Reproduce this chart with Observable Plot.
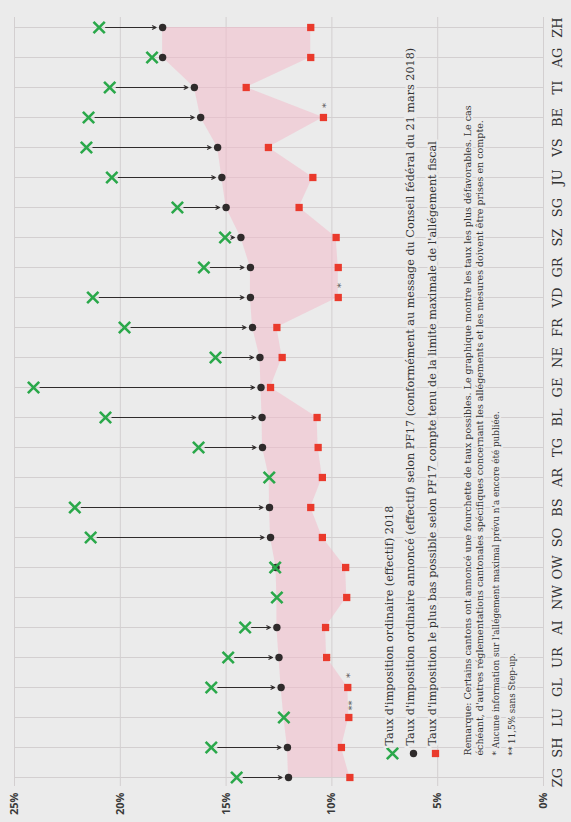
<!DOCTYPE html>
<html><head><meta charset="utf-8">
<script src="https://cdn.jsdelivr.net/npm/d3@7"></script>
<script src="https://cdn.jsdelivr.net/npm/@observablehq/plot@0.6"></script>
<style>
html,body{margin:0;padding:0;background:#ebebeb;}
#chart svg{display:block;}
</style></head><body><div id="chart"></div>
<script>
// Rows listed top (ZH) to bottom (ZG) as in the rotated picture
const cantons = ["ZH","AG","TI","BE","VS","JU","SG","SZ","GR","VD","FR","NE","GE","BL","TG","AR","BS","SO","OW","NW","AI","UR","GL","LU","SH","ZG"];
// Taux d'imposition ordinaire (effectif) 2018
const current = [21.0,18.5,20.5,21.5,21.6,20.4,17.3,15.05,16.05,21.3,19.8,15.5,24.1,20.7,16.3,12.96,22.15,21.4,12.68,12.6,14.1,14.9,15.7,12.27,15.7,14.5];
// Taux annoncé selon PF17 (null = inchangé)
const planned = [18.0,18.0,16.5,16.2,15.4,15.2,15.0,14.3,13.85,13.85,13.75,13.4,13.35,13.3,13.28,null,12.95,12.9,12.64,null,12.6,12.5,12.4,null,12.1,12.05];
// Taux le plus bas possible selon PF17
const lowest = [11.0,11.0,14.05,10.4,13.0,10.9,11.55,9.8,9.7,9.7,12.6,12.35,12.9,10.7,10.65,10.45,11.0,10.45,9.35,9.3,10.3,10.25,9.25,9.2,9.55,9.15];
const lowNote = ["","","","*","","","","","","*","","","","","","","","","","","","","*","**","",""];
const valueTicks = [0,5,10,15,20,25];
const legendLabels = [
  "Taux d'imposition ordinaire (effectif) 2018",
  "Taux d'imposition ordinaire annoncé (effectif) selon PF17 (conformément au message du Conseil fédéral du 21 mars 2018)",
  "Taux d'imposition le plus bas possible selon PF17 compte tenu de la limite maximale de l'allégement fiscal"
];
const noteLines = [
  "Remarque: Certains cantons ont annoncé une fourchette de taux possibles. Le graphique montre les taux les plus défavorables. Le cas",
  "échéant, d'autres réglementations cantonales spécifiques concernant les allégements et les mesures doivent être prises en compte.",
  "* Aucune information sur l'allégement maximal prévu n'a encore été publiée.",
  "** 11,5% sans Step-up."
];

const GREEN = "#2aa84a", DARK = "#2f2b2b", RED = "#ea3a2c", PINK = "#f2bccb", GRID = "#d3cfd0", BG = "#ebebeb";
const SERIF = "'DejaVu Serif', serif";

const rows = cantons.map((c, i) => ({
  canton: c, current: current[i], planned: planned[i], lowest: lowest[i], note: lowNote[i],
  left: planned[i] ?? current[i]
}));

const legendDx = [-151, -130, -108];
const legendSymbols = [
  {symbol: "times", stroke: GREEN, fill: "none", r: 5.2, strokeWidth: 2.6},
  {symbol: "circle", fill: DARK, stroke: null, r: 3.7},
  {symbol: "square", fill: RED, stroke: null, r: 4.1}
];
const noteDx = [-73, -61, -45, -29];

const legendMarks = legendLabels.flatMap((label, i) => [
  Plot.dot([label], {frameAnchor: "bottom-right", dx: legendDx[i], dy: -33, ...legendSymbols[i]}),
  Plot.text([label], {frameAnchor: "bottom-right", dx: legendDx[i], dy: -41, rotate: -90, textAnchor: "start",
    fontFamily: SERIF, fontSize: 11.2, fill: "#333", stroke: BG, strokeWidth: 5})
]);
const noteMarks = noteLines.map((line, i) =>
  Plot.text([line], {frameAnchor: "bottom-right", dx: noteDx[i], dy: -31, rotate: -90, textAnchor: "start",
    fontFamily: SERIF, fontSize: i < 2 ? 9.5 : 8.8, fill: "#333", stroke: BG, strokeWidth: 4})
);

const chart = Plot.plot({
  width: 571, height: 822,
  marginLeft: 14, marginRight: 28, marginTop: 17, marginBottom: 36,
  style: {background: BG, overflow: "visible"},
  x: {domain: [25, 0]},
  y: {type: "point", domain: cantons, padding: 0},
  marks: [
    Plot.ruleY(cantons, {stroke: GRID, strokeWidth: 1}),
    Plot.ruleX(valueTicks, {stroke: GRID, strokeWidth: 1}),
    Plot.areaX(rows, {y: "canton", x1: "left", x2: "lowest", fill: PINK, fillOpacity: 0.55, curve: "linear"}),
    ...legendMarks,
    ...noteMarks,
    Plot.arrow(rows.filter(d => d.planned != null && Math.abs(d.current - d.planned) > 0.6), {
      x1: "current", x2: "planned", y: "canton", stroke: DARK, strokeWidth: 1.2,
      headLength: 5, headAngle: 50, insetStart: 6.5, insetEnd: 6.5
    }),
    Plot.dot(rows.filter(d => d.planned != null), {x: "planned", y: "canton", r: 3.7, fill: DARK}),
    Plot.dot(rows, {x: "current", y: "canton", symbol: "times", r: 5.2, stroke: GREEN, strokeWidth: 2.6}),
    Plot.dot(rows, {x: "lowest", y: "canton", symbol: "square", r: 4.1, fill: RED}),
    Plot.text(rows.filter(d => d.note), {x: "lowest", y: "canton", text: "note", rotate: -90, dy: -12, dx: 2.5,
      fontFamily: SERIF, fontSize: 10, fill: "#555"}),
    Plot.axisX({ticks: valueTicks, tickFormat: d => d + "%", tickRotate: -90, tickSize: 0, tickPadding: 6,
      fontSize: 11, fontWeight: "bold", fontFamily: "'Open Sans', sans-serif", fill: "#3a3a3a", label: null}),
    Plot.axisY({anchor: "right", tickRotate: -90, tickSize: 0, tickPadding: 18,
      fontSize: 13, fontFamily: SERIF, fill: "#333", label: null})
  ]
});
document.getElementById("chart").append(chart);
</script>
</body></html>
